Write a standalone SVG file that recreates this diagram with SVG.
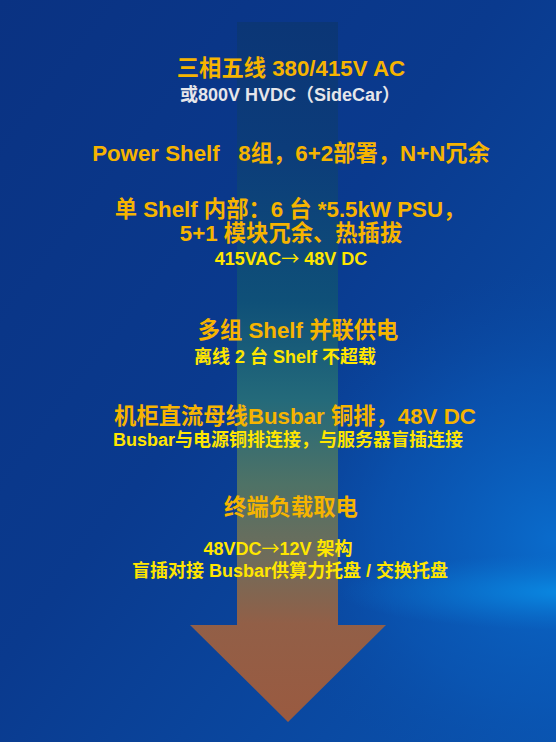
<svg xmlns="http://www.w3.org/2000/svg" width="556" height="742" viewBox="0 0 556 742">
  <defs>
    <linearGradient id="bg" x1="0" y1="0" x2="1" y2="1">
      <stop offset="0" stop-color="#0a3282"/>
      <stop offset="0.45" stop-color="#0a3a8e"/>
      <stop offset="1" stop-color="#0a54b0"/>
    </linearGradient>
    <radialGradient id="broad" cx="556" cy="540" r="300" gradientUnits="userSpaceOnUse" gradientTransform="translate(556 540) scale(1 0.9) translate(-556 -540)">
      <stop offset="0" stop-color="#0a6fd0" stop-opacity="0.9"/>
      <stop offset="0.6" stop-color="#0a5cbc" stop-opacity="0.45"/>
      <stop offset="1" stop-color="#0a4aa4" stop-opacity="0"/>
    </radialGradient>
    <radialGradient id="glow" cx="580" cy="592" r="240" gradientUnits="userSpaceOnUse" gradientTransform="translate(580 592) scale(1 0.16) translate(-580 -592)">
      <stop offset="0" stop-color="#0a90e8" stop-opacity="0.9"/>
      <stop offset="0.5" stop-color="#0a84de" stop-opacity="0.45"/>
      <stop offset="1" stop-color="#0a78d4" stop-opacity="0"/>
    </radialGradient>
    <linearGradient id="shaft" x1="0" y1="22" x2="0" y2="722" gradientUnits="userSpaceOnUse">
      <stop offset="0" stop-color="#0b3676"/>
      <stop offset="0.18" stop-color="#0c3c7a"/>
      <stop offset="0.4" stop-color="#0f5078"/>
      <stop offset="0.54" stop-color="#246a7a"/>
      <stop offset="0.66" stop-color="#4e7266"/>
      <stop offset="0.77" stop-color="#716c5a"/>
      <stop offset="0.86" stop-color="#925f47"/>
      <stop offset="1" stop-color="#9a5a40"/>
    </linearGradient>
    <style>
      .h { font-family: "Liberation Sans", "Noto Sans CJK SC", sans-serif; font-weight: bold; font-size: 22.3px; fill: #f6b400; text-anchor: middle; white-space: pre; }
      .s { font-family: "Liberation Sans", "Noto Sans CJK SC", sans-serif; font-weight: bold; font-size: 18px; fill: #ffe600; text-anchor: middle; white-space: pre; }
      .w { fill: #e6e6ea; }
      .ar { font-family: "Noto Sans CJK SC", sans-serif; font-weight: normal; }
    </style>
  </defs>
  <rect x="0" y="0" width="556" height="742" fill="url(#bg)"/>
  <rect x="0" y="0" width="556" height="742" fill="url(#broad)"/>
  <rect x="0" y="0" width="556" height="742" fill="url(#glow)"/>

  <g id="connectors">
    <path id="flow-arrow" d="M237 22 H338 V625 H386 L288 722 L190 625 H237 Z" fill="url(#shaft)"/>
  </g>

  <g id="node-input">
    <text class="h" x="291" y="76">三相五线 380/415V AC</text>
    <text class="s w" x="290" y="101">或800V HVDC（SideCar）</text>
  </g>
  <g id="node-powershelf">
    <text class="h" x="291" y="161">Power Shelf   8组，6+2部署，N+N冗余</text>
  </g>
  <g id="node-shelf-inner">
    <text class="h" x="290" y="217">单 Shelf 内部：6 台 *5.5kW PSU，</text>
    <text class="h" x="291" y="241">5+1 模块冗余、热插拔</text>
    <text class="s" x="291" y="265">415VAC<tspan class="ar">→</tspan> 48V DC</text>
  </g>
  <g id="node-parallel">
    <text class="h" x="298" y="338">多组 Shelf 并联供电</text>
    <text class="s" x="285" y="363">离线 2 台 Shelf 不超载</text>
  </g>
  <g id="node-busbar">
    <text class="h" x="295" y="424">机柜直流母线Busbar 铜排，48V DC</text>
    <text class="s" x="288" y="446">Busbar与电源铜排连接，与服务器盲插连接</text>
  </g>
  <g id="node-load">
    <text class="h" x="291" y="515">终端负载取电</text>
    <text class="s" x="278" y="555">48VDC<tspan class="ar">→</tspan>12V 架构</text>
    <text class="s" x="290" y="577">盲插对接 Busbar供算力托盘 / 交换托盘</text>
  </g>
</svg>
